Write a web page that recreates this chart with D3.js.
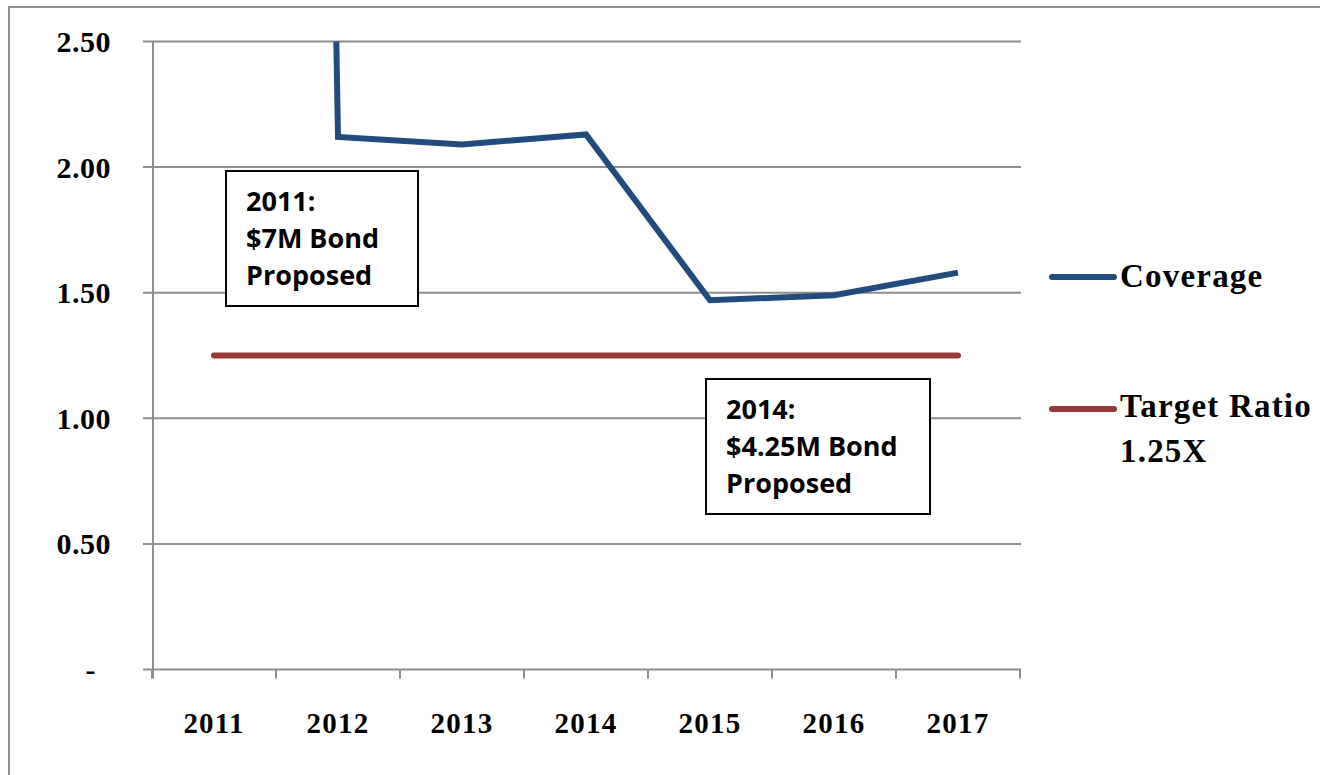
<!DOCTYPE html>
<html>
<head>
<meta charset="utf-8">
<script src="https://cdn.jsdelivr.net/npm/d3@7"></script>
<style>
  html, body { margin: 0; padding: 0; background: #fff; }
  svg { display: block; }
</style>
</head>
<body>
<svg id="chart" width="1320" height="775"></svg>
<script>
// Debt service coverage ratio by fiscal year
const years = ["2011", "2012", "2013", "2014", "2015", "2016", "2017"];
const coverage = [30.0, 2.12, 2.09, 2.13, 1.47, 1.49, 1.58];
const target = [1.25, 1.25, 1.25, 1.25, 1.25, 1.25, 1.25];
const yTicks = [0, 0.5, 1.0, 1.5, 2.0, 2.5];
const seriesNames = ["Coverage", "Target Ratio"];
const targetSub = "1.25X";
const notes = [
  ["2011:", "$7M Bond", "Proposed"],
  ["2014:", "$4.25M Bond", "Proposed"]
];

const svg = d3.select("#chart");
const serif = "'Liberation Serif', 'Times New Roman', serif";
const sans = "'Open Sans', 'Liberation Sans', sans-serif";
const gridColor = "#8e8e8e";
const blue = "#224b7e";
const red = "#9a3a38";

const x = d3.scaleBand().domain(years).range([152, 1020]).padding(0);
const y = d3.scaleLinear().domain([0, 2.5]).range([669.5, 41.5]);
const cx = d => x(d) + x.bandwidth() / 2;

// outer chart frame
svg.append("rect")
  .attr("x", 9).attr("y", 7).attr("width", 1400).attr("height", 900)
  .attr("fill", "none").attr("stroke", gridColor).attr("stroke-width", 2);

// horizontal gridlines (including the baseline)
svg.append("g").selectAll("line").data(yTicks).join("line")
  .attr("x1", 143).attr("x2", 1021)
  .attr("y1", d => y(d)).attr("y2", d => y(d))
  .attr("stroke", gridColor).attr("stroke-width", 2);

// vertical value axis
svg.append("line")
  .attr("x1", 153).attr("x2", 153)
  .attr("y1", y(2.5)).attr("y2", y(0) + 9)
  .attr("stroke", gridColor).attr("stroke-width", 2);

// category boundary ticks
const bounds = years.map(d => x(d)).concat([x(years[years.length - 1]) + x.step()]);
svg.append("g").selectAll("line").data(bounds).join("line")
  .attr("x1", d => d).attr("x2", d => d)
  .attr("y1", y(0)).attr("y2", y(0) + 9)
  .attr("stroke", gridColor).attr("stroke-width", 2);

// y tick labels
const fmt = d => d === 0 ? "-" : d3.format(".2f")(d);
svg.append("g").selectAll("text").data(yTicks).join("text")
  .attr("x", d => d === 0 ? 96 : 111)
  .attr("y", d => y(d))
  .attr("dy", "0.35em")
  .attr("text-anchor", "end")
  .attr("font-family", serif).attr("font-weight", "bold")
  .attr("font-size", 30).attr("letter-spacing", 0.5)
  .attr("fill", "#000")
  .text(fmt);

// x tick labels
svg.append("g").selectAll("text").data(years).join("text")
  .attr("x", d => cx(d))
  .attr("y", 733)
  .attr("text-anchor", "middle")
  .attr("font-family", serif).attr("font-weight", "bold")
  .attr("font-size", 29).attr("letter-spacing", 1.2)
  .attr("fill", "#000")
  .text(d => d);

// clip to plot area so off-scale values run off the top
svg.append("clipPath").attr("id", "plot-clip")
  .append("rect").attr("x", 140).attr("y", y(2.5)).attr("width", 900).attr("height", y(0) - y(2.5) + 10);

const line = d3.line().x((d, i) => cx(years[i])).y(d => y(d));

svg.append("path")
  .datum(target)
  .attr("d", line)
  .attr("fill", "none").attr("stroke", red)
  .attr("stroke-width", 6).attr("stroke-linecap", "round");

svg.append("path")
  .datum(coverage)
  .attr("clip-path", "url(#plot-clip)")
  .attr("d", line)
  .attr("fill", "none").attr("stroke", blue)
  .attr("stroke-width", 6).attr("stroke-linejoin", "miter");

// annotation boxes
const boxes = [
  { left: x(years[0]) + 74, top: 171, w: 192, h: 135, lines: notes[0] },
  { left: x(years[4]) + 58, top: 379, w: 224, h: 135, lines: notes[1] }
];
boxes.forEach(b => {
  const g = svg.append("g").attr("transform", `translate(${b.left},${b.top})`);
  g.append("rect")
    .attr("width", b.w).attr("height", b.h)
    .attr("fill", "#fff").attr("stroke", "#000").attr("stroke-width", 2);
  g.selectAll("text").data(b.lines).join("text")
    .attr("x", 20)
    .attr("y", (d, j) => 40 + j * 37)
    .attr("font-family", sans).attr("font-weight", "bold")
    .attr("font-size", 27).attr("fill", "#000")
    .text(d => d);
});

// legend
const legend = svg.append("g");
const legendRows = [
  { name: seriesNames[0], color: blue, ly: 277, ty: 287, sub: null },
  { name: seriesNames[1], color: red, ly: 409, ty: 417, sub: targetSub }
];
legendRows.forEach(r => {
  legend.append("line")
    .attr("x1", 1052).attr("x2", 1114)
    .attr("y1", r.ly).attr("y2", r.ly)
    .attr("stroke", r.color).attr("stroke-width", 6).attr("stroke-linecap", "round");
  legend.append("text")
    .attr("x", 1120).attr("y", r.ty)
    .attr("font-family", serif).attr("font-weight", "bold")
    .attr("font-size", 33).attr("letter-spacing", 1.2)
    .attr("fill", "#000")
    .text(r.name);
  if (r.sub) {
    legend.append("text")
      .attr("x", 1120).attr("y", r.ty + 45)
      .attr("font-family", serif).attr("font-weight", "bold")
      .attr("font-size", 33).attr("letter-spacing", 1.2)
      .attr("fill", "#000")
      .text(r.sub);
  }
});
</script>
</body>
</html>
